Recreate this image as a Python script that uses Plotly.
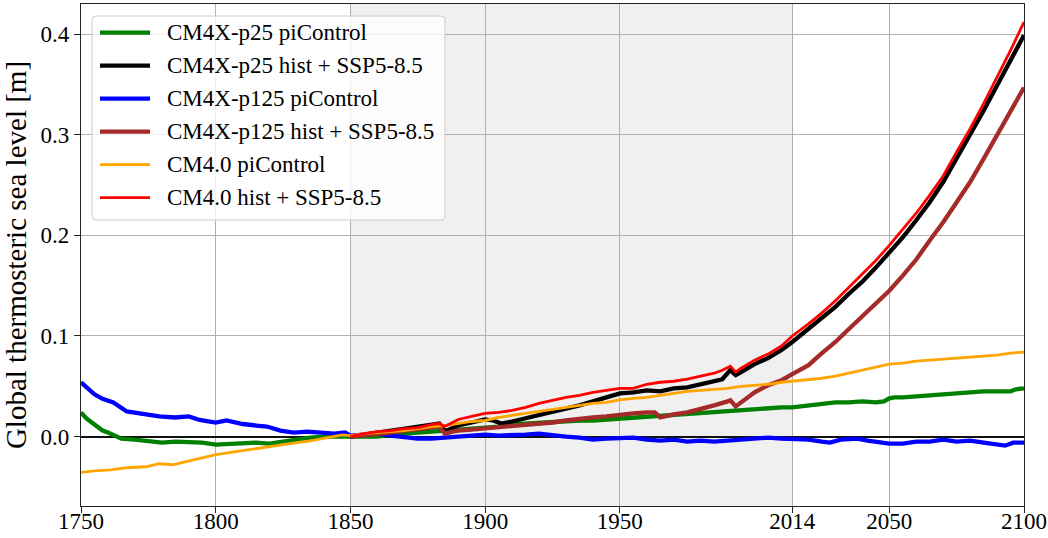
import plotly.graph_objects as go

# ---- data: global thermosteric sea level anomaly [m] ----
pic_years_p25 = [1750, 1752, 1755, 1758, 1760, 1763, 1765, 1770, 1775, 1780, 1785, 1790, 1795,
                 1800, 1805, 1810, 1815, 1820, 1825, 1830, 1835, 1840, 1845, 1850, 1855, 1860,
                 1865, 1870, 1875, 1880, 1885, 1890, 1895, 1900, 1905, 1910, 1915, 1920, 1925,
                 1930, 1935, 1940, 1945, 1950, 1955, 1960, 1965, 1970, 1975, 1980, 1985, 1990,
                 1995, 2000, 2005, 2010, 2014, 2020, 2025, 2030, 2035, 2040, 2045, 2048, 2050,
                 2052, 2055, 2060, 2065, 2070, 2075, 2080, 2085, 2090, 2095, 2097, 2100]
pic_p25 = [0.024, 0.018, 0.012, 0.006, 0.004, 0.001, -0.002, -0.003, -0.004, -0.006, -0.005,
           -0.005, -0.006, -0.008, -0.007, -0.006, -0.006, -0.007, -0.005, -0.002, -0.001,
           0.000, 0.000, 0.000, 0.001, 0.000, 0.002, 0.003, 0.004, 0.005, 0.005, 0.006, 0.008,
           0.009, 0.010, 0.012, 0.013, 0.014, 0.015, 0.015, 0.016, 0.016, 0.017, 0.0175, 0.019,
           0.020, 0.021, 0.022, 0.023, 0.023, 0.024, 0.025, 0.026, 0.027, 0.028, 0.029, 0.029,
           0.031, 0.033, 0.034, 0.034, 0.035, 0.034, 0.035, 0.038, 0.039, 0.039, 0.040, 0.041,
           0.043, 0.044, 0.044, 0.045, 0.045, 0.045, 0.047, 0.048]

hist_years_p25 = [1850, 1855, 1860, 1865, 1870, 1875, 1880, 1883, 1885, 1888, 1890, 1895, 1900,
                  1903, 1906, 1910, 1915, 1920, 1925, 1930, 1935, 1940, 1945, 1950, 1955, 1960,
                  1965, 1970, 1975, 1980, 1985, 1988, 1991, 1993, 1995, 2000, 2005, 2010, 2014,
                  2020, 2025, 2030, 2035, 2040, 2045, 2050, 2055, 2060, 2065, 2070, 2075, 2080,
                  2085, 2090, 2095, 2100]
hist_p25 = [0.000, 0.002, 0.003, 0.005, 0.007, 0.009, 0.011, 0.013, 0.005, 0.009, 0.011, 0.014,
            0.017, 0.016, 0.013, 0.015, 0.018, 0.022, 0.025, 0.028, 0.031, 0.035, 0.039, 0.043,
            0.044, 0.046, 0.045, 0.048, 0.049, 0.052, 0.055, 0.057, 0.066, 0.061, 0.064, 0.072,
            0.078, 0.086, 0.094, 0.107, 0.117, 0.129, 0.142, 0.154, 0.168, 0.183, 0.198, 0.215,
            0.233, 0.253, 0.276, 0.299, 0.324, 0.349, 0.374, 0.399]

pic_years_p125 = [1750, 1752, 1755, 1758, 1762, 1767, 1773, 1779, 1785, 1790, 1794, 1800, 1804,
                  1810, 1815, 1819, 1824, 1829, 1834, 1839, 1844, 1848, 1850, 1855, 1860, 1865,
                  1870, 1875, 1880, 1885, 1890, 1895, 1900, 1905, 1910, 1915, 1920, 1925, 1930,
                  1935, 1940, 1945, 1950, 1955, 1960, 1965, 1970, 1975, 1980, 1985, 1990, 1995,
                  2000, 2005, 2010, 2014, 2020, 2025, 2028, 2032, 2038, 2042, 2046, 2050, 2055,
                  2060, 2065, 2070, 2075, 2080, 2085, 2090, 2093, 2096, 2100]
pic_p125 = [0.054, 0.049, 0.042, 0.0375, 0.034, 0.025, 0.0225, 0.020, 0.019, 0.020, 0.0165,
            0.014, 0.016, 0.0125, 0.011, 0.010, 0.006, 0.004, 0.005, 0.004, 0.003, 0.004, 0.001,
            0.002, 0.003, 0.001, -0.001, -0.002, -0.002, -0.001, 0.001, 0.001, 0.002, 0.001,
            0.001, 0.002, 0.003, 0.001, 0.000, -0.001, -0.003, -0.002, -0.002, -0.001, -0.003,
            -0.004, -0.003, -0.005, -0.004, -0.005, -0.004, -0.003, -0.001, -0.001, -0.002,
            -0.002, -0.003, -0.005, -0.006, -0.003, -0.002, -0.004, -0.006, -0.007, -0.007,
            -0.005, -0.005, -0.003, -0.005, -0.004, -0.006, -0.008, -0.009, -0.006, -0.006]

hist_years_p125 = [1850, 1855, 1860, 1865, 1870, 1875, 1880, 1883, 1885, 1888, 1890, 1895, 1900,
                   1905, 1910, 1915, 1920, 1925, 1930, 1935, 1940, 1945, 1950, 1955, 1960, 1963,
                   1965, 1968, 1970, 1975, 1980, 1985, 1990, 1991, 1993, 1995, 2000, 2005, 2010,
                   2014, 2020, 2025, 2030, 2035, 2040, 2045, 2050, 2055, 2060, 2065, 2070, 2075,
                   2080, 2085, 2090, 2095, 2100]
hist_p125 = [0.000, 0.001, 0.002, 0.004, 0.006, 0.008, 0.009, 0.010, 0.003, 0.005, 0.006, 0.007,
             0.008, 0.009, 0.011, 0.012, 0.013, 0.014, 0.016, 0.018, 0.019, 0.020, 0.022, 0.023,
             0.024, 0.024, 0.019, 0.021, 0.022, 0.024, 0.027, 0.031, 0.035, 0.036, 0.030, 0.034,
             0.044, 0.051, 0.056, 0.062, 0.071, 0.083, 0.094, 0.107, 0.120, 0.133, 0.145, 0.160,
             0.176, 0.195, 0.213, 0.233, 0.253, 0.276, 0.300, 0.324, 0.347]

pic_years_cm4 = [1750, 1755, 1761, 1767, 1774, 1779, 1784, 1790, 1795, 1800, 1805, 1810, 1815,
                 1820, 1826, 1830, 1834, 1841, 1847, 1850, 1855, 1860, 1865, 1870, 1875, 1880,
                 1885, 1890, 1895, 1900, 1905, 1910, 1915, 1920, 1925, 1930, 1935, 1940, 1945,
                 1950, 1955, 1960, 1965, 1970, 1975, 1980, 1985, 1990, 1995, 2000, 2005, 2010,
                 2014, 2020, 2025, 2030, 2035, 2040, 2045, 2050, 2055, 2060, 2065, 2070, 2075,
                 2080, 2085, 2090, 2095, 2100]
pic_cm4 = [-0.0355, -0.034, -0.033, -0.031, -0.030, -0.027, -0.028, -0.024, -0.021, -0.018,
           -0.016, -0.014, -0.012, -0.010, -0.007, -0.006, -0.0047, -0.001, 0.0017, 0.001, 0.003,
           0.004, 0.005, 0.006, 0.008, 0.010, 0.011, 0.013, 0.015, 0.016, 0.019, 0.021, 0.023,
           0.025, 0.027, 0.029, 0.031, 0.033, 0.034, 0.0365, 0.038, 0.039, 0.041, 0.043, 0.045,
           0.046, 0.047, 0.048, 0.050, 0.051, 0.052, 0.054, 0.055, 0.057, 0.058, 0.060, 0.063,
           0.066, 0.069, 0.072, 0.073, 0.075, 0.076, 0.077, 0.078, 0.079, 0.080, 0.081, 0.083,
           0.084]

hist_years_cm4 = [1850, 1855, 1860, 1865, 1870, 1875, 1880, 1883, 1885, 1890, 1895, 1900, 1905,
                  1910, 1915, 1920, 1925, 1930, 1935, 1940, 1945, 1950, 1955, 1960, 1965, 1970,
                  1975, 1980, 1985, 1988, 1991, 1993, 1995, 2000, 2005, 2010, 2014, 2020, 2025,
                  2030, 2035, 2040, 2045, 2050, 2055, 2060, 2065, 2070, 2075, 2080, 2085, 2090,
                  2095, 2100]
hist_cm4 = [0.000, 0.003, 0.005, 0.006, 0.008, 0.009, 0.012, 0.013, 0.010, 0.017, 0.020, 0.023,
            0.024, 0.026, 0.029, 0.033, 0.036, 0.039, 0.041, 0.044, 0.046, 0.048, 0.048, 0.052,
            0.054, 0.055, 0.057, 0.060, 0.063, 0.066, 0.070, 0.064, 0.068, 0.076, 0.082, 0.090,
            0.100, 0.112, 0.123, 0.135, 0.148, 0.161, 0.175, 0.190, 0.206, 0.222, 0.240, 0.259,
            0.283, 0.306, 0.331, 0.357, 0.384, 0.412]

series = [
    ("CM4X-p25 piControl", pic_years_p25, pic_p25, "green", 4.3),
    ("CM4X-p25 hist + SSP5-8.5", hist_years_p25, hist_p25, "black", 4.3),
    ("CM4X-p125 piControl", pic_years_p125, pic_p125, "blue", 4.3),
    ("CM4X-p125 hist + SSP5-8.5", hist_years_p125, hist_p125, "brown", 4.3),
    ("CM4.0 piControl", pic_years_cm4, pic_cm4, "orange", 2.8),
    ("CM4.0 hist + SSP5-8.5", hist_years_cm4, hist_cm4, "red", 2.8),
]

x_ticks = [1750, 1800, 1850, 1900, 1950, 2014, 2050, 2100]
y_ticks = [0.0, 0.1, 0.2, 0.3, 0.4]
y_tick_text = ["0.0", "0.1", "0.2", "0.3", "0.4"]

FONT = "Liberation Serif"
FS = 23

fig = go.Figure()
for name, xs, ys, color, width in series:
    fig.add_trace(go.Scatter(x=xs, y=ys, mode="lines", name=name, showlegend=False,
                             line=dict(color=color, width=width)))

# historical period shading
fig.add_shape(type="rect", xref="x", yref="paper", x0=1850, x1=2014, y0=0, y1=1,
              fillcolor="#f0f0f0", line_width=0, layer="below")

# legend panel drawn by hand (pixel positions converted to paper fractions)
W, H = 1048, 538
L, R, T, B = 81, 24, 4, 32
pw, ph = W - L - R, H - T - B


def px(x):
    return (x - L) / pw


def py(y):
    return (H - B - y) / ph


bx0, bx1, by0, by1, rr = 92, 445, 16, 220, 4
path = (f"M {px(bx0 + rr)},{py(by0)} L {px(bx1 - rr)},{py(by0)} "
        f"Q {px(bx1)},{py(by0)} {px(bx1)},{py(by0 + rr)} L {px(bx1)},{py(by1 - rr)} "
        f"Q {px(bx1)},{py(by1)} {px(bx1 - rr)},{py(by1)} L {px(bx0 + rr)},{py(by1)} "
        f"Q {px(bx0)},{py(by1)} {px(bx0)},{py(by1 - rr)} L {px(bx0)},{py(by0 + rr)} "
        f"Q {px(bx0)},{py(by0)} {px(bx0 + rr)},{py(by0)} Z")
fig.add_shape(type="path", xref="paper", yref="paper", path=path,
              fillcolor="rgba(255,255,255,0.8)", line=dict(color="#cccccc", width=1),
              layer="above")
for i, (name, xs, ys, color, width) in enumerate(series):
    yc = 32.7 + 33 * i
    fig.add_shape(type="line", xref="paper", yref="paper", x0=px(100), x1=px(150),
                  y0=py(yc), y1=py(yc), line=dict(color=color, width=width), layer="above")
    fig.add_annotation(xref="paper", yref="paper", x=px(165), y=py(yc), text=name,
                       showarrow=False, xanchor="left", yanchor="middle",
                       font=dict(family=FONT, size=FS, color="black"))

fig.update_layout(
    width=W, height=H,
    margin=dict(l=L, r=R, t=T, b=B, autoexpand=False),
    paper_bgcolor="white", plot_bgcolor="white",
    font=dict(family=FONT, size=FS, color="black"),
    showlegend=False,
    xaxis=dict(range=[1750, 2100], tickvals=x_ticks, ticktext=[str(v) for v in x_ticks],
               automargin=False, ticklabelstandoff=-12,
               showgrid=True, gridcolor="#b0b0b0", gridwidth=1.2,
               showline=True, linecolor="#222222", linewidth=1.3, mirror=True,
               ticks="outside", ticklen=6, tickwidth=1.3, tickcolor="#222222",
               zeroline=False, tickfont=dict(family=FONT, size=FS)),
    yaxis=dict(range=[-0.069, 0.43], tickvals=y_ticks, ticktext=y_tick_text,
               automargin=False,
               showgrid=True, gridcolor="#b0b0b0", gridwidth=1.2,
               showline=True, linecolor="#222222", linewidth=1.3, mirror=True,
               ticks="outside", ticklen=6, tickwidth=1.3, tickcolor="#222222",
               zeroline=True, zerolinecolor="#111111", zerolinewidth=1.5,
               tickfont=dict(family=FONT, size=FS),
               title=dict(text="Global thermosteric sea level [m]",
                          font=dict(family=FONT, size=29), standoff=5)),
)

fig.write_html("out.html")
